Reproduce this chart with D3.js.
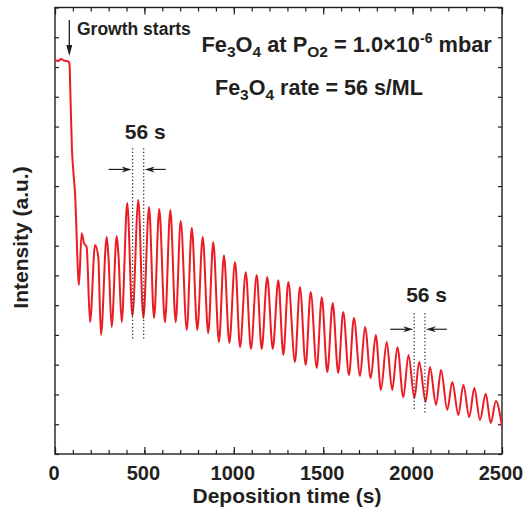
<!DOCTYPE html>
<html><head><meta charset="utf-8">
<script src="https://cdn.jsdelivr.net/npm/d3@7"></script>
<style>
body{margin:0;background:#fff}
svg{display:block}
text{font-family:"Liberation Sans",Arial,Helvetica,sans-serif;font-weight:bold;fill:#231f20}
</style>
</head><body>
<svg id="c" width="526" height="513"></svg>
<script>
// ---- data ----
const times = [0,17,34,50,67,78,81,87,95,102,112,130,134,
  149,162,177,196,224,242,257,289,299,317,345,355,373,
  404,433,466,494,526,554,583,615,645,675,703,737,765,796,826,857,885,917,945,975,
  1007,1035,1067,1096,1128,1156,1187,1218,1249,1277,1305,1342,1370,1402,1430,1464,1492,1523,
  1553,1584,1612,1644,1672,1706,1734,1766,1794,1823,1855,1886,1915,1948,1977,2010,2037,2073,
  2097,2131,2159,2194,2222,2256,2284,2317,2345,2377,2409,2437,2466,2500];
const intensity = [13.23,13.20,13.27,13.22,13.20,13.17,13.10,11.89,10.21,9.54,8.76,5.96,5.68,
  7.42,7.09,6.95,4.43,7.02,6.62,4.00,7.29,6.62,4.27,7.32,6.68,4.43,
  8.43,4.64,8.53,4.57,8.30,4.57,8.23,4.43,8.20,4.43,7.83,4.17,7.59,4.17,7.29,4.06,7.12,3.76,6.68,3.73,
  6.45,3.59,6.11,3.53,6.01,3.53,5.95,3.53,5.84,3.33,5.78,3.09,5.61,2.99,5.44,2.89,5.27,2.75,
  5.07,2.72,4.77,2.65,4.57,2.62,4.27,2.55,4.00,2.15,3.76,2.15,3.59,1.91,3.33,1.88,3.09,1.75,
  2.92,1.65,2.82,1.48,2.42,1.31,2.32,1.24,2.22,1.14,2.02,1.04,1.78,0.91];
const xMajorTicks = [0,500,1000,1500,2000,2500];
const xTickLabels = ["0","500","1000","1500","2000","2500"];
const xMinorTicks = [0,100,200,300,400,500,600,700,800,900,1000,1100,1200,1300,1400,1500,1600,1700,1800,1900,2000,2100,2200,2300,2400,2500];
const yTicks = [0,1,2,3,4,5,6,7,8,9,10,11,12,13,14,15];
const growthStart = 80;
const periodMarks = [[434,496],[2009,2069]];
const periodLabel = "56 s";

// ---- chart ----
const svg = d3.select("#c");
const x = d3.scaleLinear().domain([0,2500]).range([55,502]);
const y = d3.scaleLinear().domain([0,15]).range([454,7.5]);
const ink = "#231f20";

svg.append("clipPath").attr("id","clip").append("rect")
  .attr("x",x(0)).attr("y",y(15)).attr("width",x(2500)-x(0)).attr("height",y(0)-y(15));

function styleAxis(g){
  g.select(".domain").remove();
  g.selectAll("line").attr("stroke",ink).attr("stroke-width",1.2);
  g.attr("font-family",null).attr("font-size",null);
}
const B = y(0), T = y(15), L = x(0), R = x(2500);
svg.append("g").attr("transform",`translate(0,${B})`)
  .call(d3.axisBottom(x).tickValues(xMinorTicks).tickSize(-4).tickFormat("")).call(styleAxis);
svg.append("g").attr("transform",`translate(0,${B})`)
  .call(d3.axisBottom(x).tickValues(xMajorTicks).tickSize(-7).tickPadding(12).tickFormat((d,i)=>xTickLabels[i]))
  .call(styleAxis)
  .selectAll("text").style("font-size","20px").attr("fill",ink).attr("dx",-1.5);
svg.append("g").attr("transform",`translate(0,${T})`)
  .call(d3.axisTop(x).tickValues(xMinorTicks).tickSize(-4).tickFormat("")).call(styleAxis);
svg.append("g").attr("transform",`translate(0,${T})`)
  .call(d3.axisTop(x).tickValues(xMajorTicks).tickSize(-7).tickFormat("")).call(styleAxis);
svg.append("g").attr("transform",`translate(${L},0)`)
  .call(d3.axisLeft(y).tickValues(yTicks).tickSize(-4).tickFormat("")).call(styleAxis);
svg.append("g").attr("transform",`translate(${R},0)`)
  .call(d3.axisRight(y).tickValues(yTicks).tickSize(-4).tickFormat("")).call(styleAxis);

svg.append("rect").attr("x",L).attr("y",T).attr("width",R-L).attr("height",B-T)
  .attr("fill","none").attr("stroke",ink).attr("stroke-width",1.4);

// trace
const pts = times.map((t,i)=>[t,intensity[i]]);
const line = d3.line().x(d=>x(d[0])).y(d=>y(d[1])).curve(d3.curveMonotoneX);
svg.append("path").datum(pts).attr("clip-path","url(#clip)")
  .attr("d",line).attr("fill","none").attr("stroke","#ec1c24").attr("stroke-width",2)
  .attr("stroke-linejoin","round");

// axis titles
svg.append("text").attr("x",287).attr("y",502.5).attr("text-anchor","middle")
  .style("font-size","21px").text("Deposition time (s)");
svg.append("text").attr("transform","translate(28,237.5) rotate(-90)").attr("text-anchor","middle")
  .style("font-size","21px").text("Intensity (a.u.)");

// growth starts annotation
const gx = x(growthStart);
svg.append("line").attr("x1",gx).attr("x2",gx).attr("y1",20).attr("y2",48)
  .attr("stroke",ink).attr("stroke-width",1.3);
svg.append("path").attr("d",`M${gx-3},45 L${gx},56 L${gx+3},45 Z`).attr("fill",ink);
svg.append("text").attr("x",77).attr("y",35).style("font-size",17.5+"px").text("Growth starts");

// header texts
function rich(xp, yp, parts, size){
  const t = svg.append("text").attr("x",xp).attr("y",yp).style("font-size",size+"px");
  parts.forEach(p=>{
    const s = t.append("tspan").text(p[0]);
    if(p[1]==="sub") s.style("font-size","15.5px").attr("dy",5);
    else if(p[1]==="sup") s.style("font-size","14px").attr("dy",-9);
    if(p[2]) s.attr("dy",p[2]);
  });
  return t;
}
rich(201.5, 51.7, [["Fe"],["3","sub"],["O",null,-5],["4","sub"],[" at P",null,-5],["O2","sub"],[" = 1.0×10",null,-5],["-6","sup"],[" mbar",null,9]], 21.8);
rich(215, 95, [["Fe"],["3","sub"],["O",null,-5],["4","sub"],[" rate = 56 s/ML",null,-5]], 21.5);

// period markers
const arrowY = [9.56, 4.19];
const dotTop = [10.27, 4.73];
const dotBot = [[3.83,3.83],[1.48,1.37]];
const labelY = [139.3, 301.7];
periodMarks.forEach((pm,k)=>{
  pm.forEach((t,j)=>{
    svg.append("line").attr("x1",x(t)).attr("x2",x(t)).attr("y1",y(dotTop[k])).attr("y2",y(dotBot[k][j]))
      .attr("stroke","#333").attr("stroke-width",1.3).attr("stroke-dasharray","1.3,2.2");
  });
  const ay = y(arrowY[k]);
  const a1 = x(pm[0]) - 1, a2 = x(pm[1]) + 1;
  svg.append("line").attr("x1",a1-23).attr("x2",a1-6).attr("y1",ay).attr("y2",ay).attr("stroke",ink).attr("stroke-width",1.2);
  svg.append("path").attr("d",`M${a1},${ay} L${a1-10},${ay-3} L${a1-7},${ay} L${a1-10},${ay+3} Z`).attr("fill",ink);
  svg.append("line").attr("x1",a2+6).attr("x2",a2+21).attr("y1",ay).attr("y2",ay).attr("stroke",ink).attr("stroke-width",1.2);
  svg.append("path").attr("d",`M${a2},${ay} L${a2+10},${ay-3} L${a2+7},${ay} L${a2+10},${ay+3} Z`).attr("fill",ink);
  svg.append("text").attr("x",(x(pm[0])+x(pm[1]))/2+7).attr("y",labelY[k]).attr("text-anchor","middle")
    .style("font-size","21px").text(periodLabel);
});
</script>
</body></html>
